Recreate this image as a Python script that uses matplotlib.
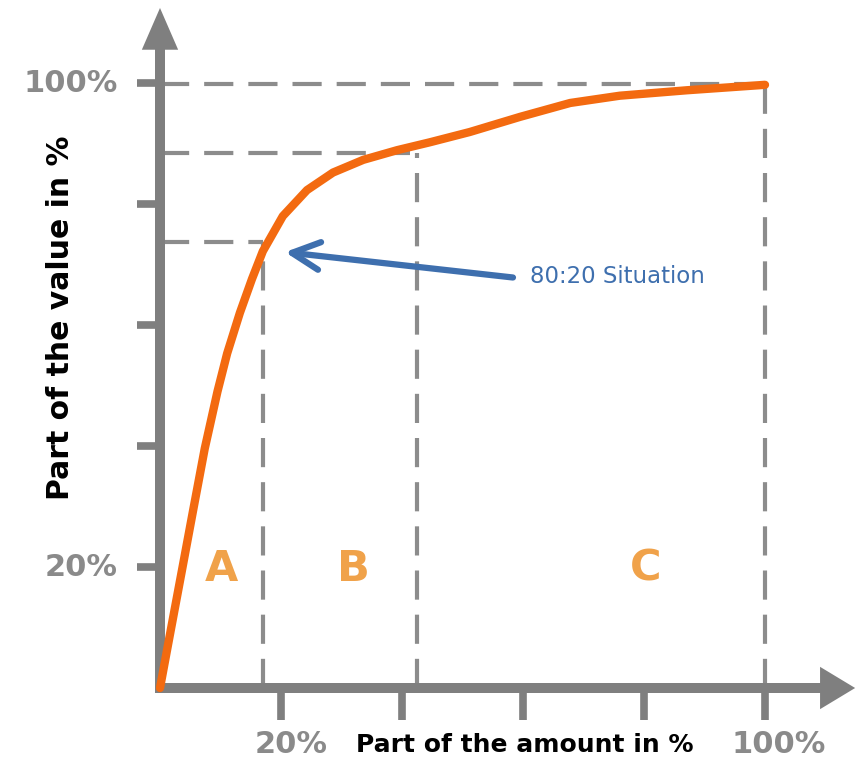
import matplotlib
matplotlib.use("Agg")
import matplotlib.pyplot as plt

# Data (percent)
curve_x = [0, 1.3, 3.6, 5.5, 7.4, 9.5, 11.1, 13.2, 15.2, 17, 20.3, 24.3, 28.6, 33.6,
           39.2, 44.6, 51.2, 59.5, 67.8, 76, 87.1, 100]
curve_y = [0, 7.0, 19.3, 29.5, 39.6, 49.0, 55.3, 62.0, 67.6, 72.2, 78.0, 82.3, 85.2, 87.3,
           88.9, 90.2, 91.9, 94.4, 96.7, 97.9, 98.8, 99.7]
ref_x = [17, 42.5, 100]
ref_y = [73.7, 88.4, 99.8]
tick_vals = [20, 40, 60, 80, 100]
zone_labels = ["A", "B", "C"]
zone_x = [10.2, 31.9, 80.2]
zone_y = 19.7

GRAY = "#7f7f7f"
DGRAY = "#8c8c8c"
ORANGE = "#f36a10"
LORANGE = "#f0a24a"
BLUE = "#3e6fae"

fig = plt.figure(figsize=(8.57, 7.76), dpi=100)
ax = fig.add_axes([0, 0, 1, 1])
S = 6.05
ax.set_xlim(-160 / S, (857 - 160) / S)
ax.set_ylim(-88 / S, 688 / S)
ax.axis("off")

# dashed reference lines
for rx, ry in zip(ref_x, ref_y):
    ax.plot([0, rx], [ry, ry], color=DGRAY, lw=3, dashes=(7, 3.6), zorder=1)
    ax.plot([rx, rx], [0, ry], color=DGRAY, lw=3, dashes=(7, 3.6), zorder=1)

# axes with arrows
ax.plot([0, 0], [-0.8, 106], color=GRAY, lw=7.2, solid_capstyle="butt", zorder=2)
ax.fill([-3.0, 0, 3.0], [105.5, 112.4, 105.5], color=GRAY, lw=0, zorder=2)
ax.plot([-0.6, 109.5], [0, 0], color=GRAY, lw=7.2, solid_capstyle="butt", zorder=2)
ax.fill([109.1, 114.9, 109.1], [-3.5, 0, 3.5], color=GRAY, lw=0, zorder=2)

# ticks
for t in tick_vals:
    ax.plot([-3.8, 0], [t, t], color=GRAY, lw=5.5, solid_capstyle="butt", zorder=2)
    ax.plot([t, t], [0, -5.3], color=GRAY, lw=5.5, solid_capstyle="butt", zorder=2)

# curve
ax.plot(curve_x, curve_y, color=ORANGE, lw=6, solid_capstyle="round",
        solid_joinstyle="round", zorder=4)

# zone letters
for lab, zx in zip(zone_labels, zone_x):
    ax.text(zx, zone_y, lab, color=LORANGE, fontsize=31, fontweight="bold",
            ha="center", va="center", zorder=3)

# tick labels
tl = dict(color="#8a8a8a", fontsize=22, fontweight="bold", family="DejaVu Sans")
ax.text(-7.0, 100, "100%", ha="right", va="center", **tl)
ax.text(-7.0, 20, "20%", ha="right", va="center", **tl)
ax.text(21.7, -9.4, "20%", ha="center", va="center", **tl)
ax.text(102.3, -9.4, "100%", ha="center", va="center", **tl)

# axis titles
ax.text(-16.5, 61.2, "Part of the value in %", rotation=90, ha="center", va="center",
        fontsize=21.5, fontweight="bold", color="black")
ax.text(60.3, -9.4, "Part of the amount in %", ha="center", va="center",
        fontsize=18, fontweight="bold", color="black")

# annotation
ax.annotate("", xy=(20.2, 72.1), xytext=(58.8, 67.8),
            arrowprops=dict(arrowstyle="->,head_length=2.0,head_width=1.0",
                            color=BLUE, lw=4.5), zorder=5)
ax.text(61.2, 68.0, "80:20 Situation", color=BLUE, fontsize=16.5, ha="left", va="center")

fig.savefig("out.png", dpi=100)
